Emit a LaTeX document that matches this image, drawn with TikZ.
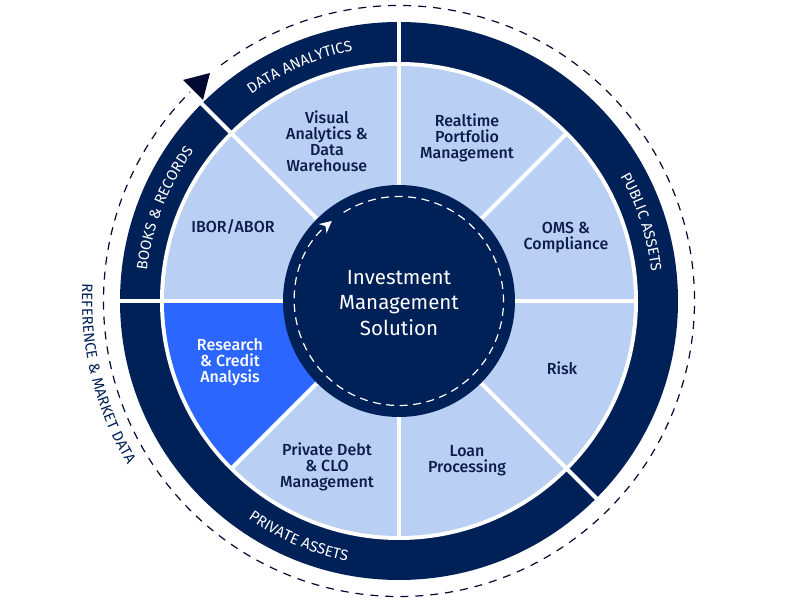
\documentclass[tikz,border=0pt]{standalone}
\usepackage{fontspec}
\setmainfont{Fira Sans}
\newfontfamily\labelfont{Fira Sans Medium}
\newfontfamily\capsfont[LetterSpace=4]{Fira Sans}
\usetikzlibrary{scopes,decorations.text,arrows.meta}

\definecolor{navy}{HTML}{002157}
\definecolor{pale}{HTML}{B9CFF3}
\definecolor{bright}{HTML}{2A66FF}
\definecolor{ink}{HTML}{0E1C4C}
\definecolor{tipdark}{HTML}{000A30}

\begin{document}
\begin{tikzpicture}[
  x=1pt, y=1pt,
  sector/.style={font=\labelfont\fontsize{16}{16}\selectfont, text=ink, align=center},
  hub/.style={font=\fontsize{20.5}{25.5}\selectfont, text=white, align=center},
  spoke/.style={draw=white, line width=4pt},
  ]
  \useasboundingbox (-399,-300) rectangle (402,301);

  % Rings and sectors
  \fill[navy] (0,0) circle (279);
  \fill[white] (0,0) circle (239);
  \fill[pale] (0,0) circle (235);
  \fill[bright] (0,0) -- (180:235) arc[start angle=180, end angle=225, radius=235] -- cycle;

  % Dividing lines
  {[spoke]
    \draw (0,0) -- (90:280);
    \draw (0,0) -- (135:280);
    \draw (0,0) -- (180:280);
    \draw (0,0) -- (-45:280);
    \draw (0,0) -- (45:237);
    \draw (0,0) -- (0:237);
    \draw (0,0) -- (-90:237);
    \draw (0,0) -- (-135:237);
  }

  % Centre
  \fill[navy] (0,0) circle (116);
  \draw[white, line width=1.2pt, dash pattern=on 8pt off 5.5pt, -{Stealth[length=12pt,width=12pt]}]
    (122:104.5) arc[start angle=122, end angle=-230, radius=104.5];
  \node[hub] (solution) at (0,-2) {Investment\\Management\\Solution};

  % Outer cycle
  \draw[tipdark, line width=1.2pt, dash pattern=on 8pt off 7pt]
    (127:295.5) arc[start angle=127, end angle=-225, radius=295.5];
  \fill[tipdark] (-189,228) -- (-216,221) -- (-196,201) -- cycle;

  % Sector labels
  \node[sector] (warehouse) at (-72,160) {Visual\\Analytics \&\\Data\\Warehouse};
  \node[sector] (realtime) at (68,163) {Realtime\\Portfolio\\Management};
  \node[sector] (oms) at (167,63) {OMS \&\\Compliance};
  \node[sector] (risk) at (163,-67) {Risk};
  \node[sector] (loan) at (68,-160) {Loan\\Processing};
  \node[sector] (debt) at (-72,-166) {Private Debt\\\& CLO\\Management};
  \node[sector, text=white] (research) at (-169,-61) {Research\\\& Credit\\Analysis};
  \node[sector] (ibor) at (-166,74) {IBOR/ABOR};

  % Ring labels
  \path[postaction={decorate, decoration={text along path, text align=center, text color=white,
      text={|\capsfont\fontsize{15}{15}\selectfont|DATA ANALYTICS}}}]
    (135:254) arc[start angle=135, end angle=91, radius=254];
  \path[postaction={decorate, decoration={text along path, text align=center, text color=white,
      text={|\capsfont\fontsize{15}{15}\selectfont|BOOKS {\&} RECORDS}}}]
    (179:254) arc[start angle=179, end angle=138, radius=254];
  \path[postaction={decorate, decoration={text along path, text align=center, text color=white,
      text={|\capsfont\fontsize{15}{15}\selectfont|PUBLIC ASSETS}}}]
    (44:254) arc[start angle=44, end angle=-8, radius=254];
  \path[postaction={decorate, decoration={text along path, text align=center, text color=white,
      text={|\capsfont\fontsize{15}{15}\selectfont|PRIVATE ASSETS}}}]
    (225:265) arc[start angle=225, end angle=269, radius=265];
  \path[postaction={decorate, decoration={text along path, text align=center, text color=navy,
      text={|\capsfont\fontsize{15}{15}\selectfont|REFERENCE {\&} MARKET DATA}}}]
    (166:317) arc[start angle=166, end angle=222, radius=317];

\end{tikzpicture}
\end{document}
